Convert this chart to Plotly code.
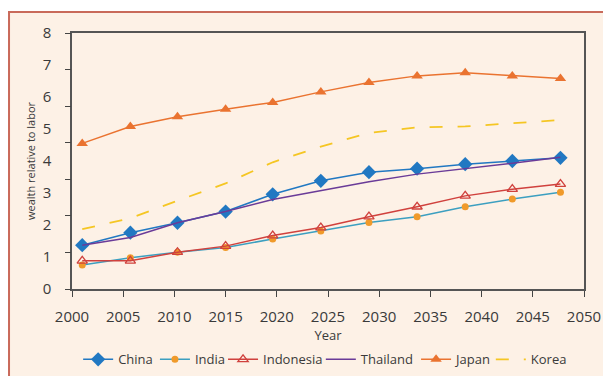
import plotly.graph_objects as go

years = [2001, 2005.7, 2010.3, 2015, 2019.6, 2024.3, 2029, 2033.7, 2038.4, 2043, 2047.7]

china = [1.37, 1.76, 2.07, 2.42, 2.96, 3.38, 3.65, 3.76, 3.90, 4.00, 4.10]
india = [0.75, 0.98, 1.15, 1.30, 1.56, 1.81, 2.08, 2.26, 2.57, 2.81, 3.02]
indonesia = [0.88, 0.88, 1.15, 1.34, 1.67, 1.92, 2.26, 2.57, 2.91, 3.12, 3.28]
thailand = [1.37, 1.61, 2.07, 2.42, 2.80, 3.07, 3.35, 3.59, 3.75, 3.93, 4.12]
japan = [4.55, 5.08, 5.38, 5.62, 5.83, 6.16, 6.45, 6.66, 6.76, 6.66, 6.58]
korea = [1.87, 2.21, 2.76, 3.30, 3.96, 4.45, 4.88, 5.05, 5.08, 5.19, 5.28]

y_labels = [0, 1, 2, 3, 4, 5, 6, 7, 8]
x_ticks = [2000, 2005, 2010, 2015, 2020, 2025, 2030, 2035, 2040, 2045, 2050]

font_family = "Open Sans, sans-serif"
text_color = "#3a3a3a"

fig = go.Figure()

fig.add_trace(go.Scatter(
    x=years, y=china, name="China", mode="lines+markers", legend="legend",
    line=dict(color="#2178c2", width=1.5),
    marker=dict(symbol="diamond", size=11, color="#2178c2")
))
fig.add_trace(go.Scatter(
    x=years, y=india, name="India", mode="lines+markers", legend="legend2",
    line=dict(color="#3c9fc0", width=1.5),
    marker=dict(symbol="circle", size=7, color="#f09a2a")
))
fig.add_trace(go.Scatter(
    x=years, y=indonesia, name="Indonesia", mode="lines+markers", legend="legend3",
    line=dict(color="#d0413d", width=1.5),
    marker=dict(symbol="triangle-up-open", size=9, color="#d0413d", line=dict(width=1.3))
))
fig.add_trace(go.Scatter(
    x=years, y=thailand, name="Thailand", mode="lines", legend="legend4",
    line=dict(color="#6a3b98", width=1.5)
))
fig.add_trace(go.Scatter(
    x=years, y=japan, name="Japan", mode="lines+markers", legend="legend5",
    line=dict(color="#ea7330", width=1.5),
    marker=dict(symbol="triangle-up", size=10, color="#ea7330")
))
fig.add_trace(go.Scatter(
    x=years, y=korea, name="Korea", mode="lines", legend="legend6",
    line=dict(color="#f5c623", width=1.8, dash="13px,15px")
))

# ghost axis carrying the tick marks (the original's ticks don't line up with its labels)
fig.add_trace(go.Scatter(x=[2000], y=[0], yaxis="y2", showlegend=False,
                         mode="markers", marker=dict(opacity=0), hoverinfo="skip"))


def legend_at(x):
    return dict(
        orientation="h", x=x, xanchor="left",
        yref="container", y=0.086, yanchor="top",
        bgcolor="rgba(0,0,0,0)", font=dict(size=13), itemwidth=30,
    )


# page body adds an 8px offset, so the figure is 8px smaller and margins shifted
fig.update_layout(
    width=603, height=368,
    margin=dict(l=64, r=27, t=25, b=87),
    paper_bgcolor="white",
    plot_bgcolor="#e5e6e8",
    font=dict(family=font_family, color=text_color, size=13),
    xaxis=dict(
        range=[2000, 2050], tickvals=x_ticks, showgrid=False, zeroline=False,
        showline=True, linecolor="#555555", linewidth=1.5, mirror=True,
        ticks="outside", ticklen=6, tickcolor="#444444",
        tickfont=dict(size=15), ticklabelstandoff=7, automargin=False,
        title=dict(text="Year", font=dict(size=13), standoff=1),
    ),
    yaxis=dict(
        range=[0, 8], tickvals=y_labels, showgrid=False, zeroline=False,
        showline=True, linecolor="#555555", linewidth=1.5, mirror=True,
        ticks="", tickfont=dict(size=15), ticklabelstandoff=16, automargin=False,
    ),
    yaxis2=dict(
        overlaying="y", anchor="x", side="left", range=[0, 7], dtick=1,
        showgrid=False, zeroline=False, showticklabels=False, showline=False,
        ticks="outside", ticklen=6, tickwidth=1.2, tickcolor="#444444", automargin=False,
    ),
    legend=legend_at(0.012),
    legend2=legend_at(0.162),
    legend3=legend_at(0.295),
    legend4=legend_at(0.486),
    legend5=legend_at(0.672),
    legend6=legend_at(0.818),
    annotations=[dict(
        text="wealth relative to labor", textangle=-90, showarrow=False,
        xref="paper", yref="paper", x=-0.082, y=0.5,
        xanchor="center", yanchor="middle",
        font=dict(size=11, color=text_color),
    )],
    shapes=[dict(
        type="rect", xref="paper", yref="paper", layer="below",
        x0=-0.123, x1=1.1, y0=-0.5, y1=1.082,
        fillcolor="#fdf1e6", line=dict(color="#c96a5a", width=2),
    )],
)

fig.write_html("out.html")
